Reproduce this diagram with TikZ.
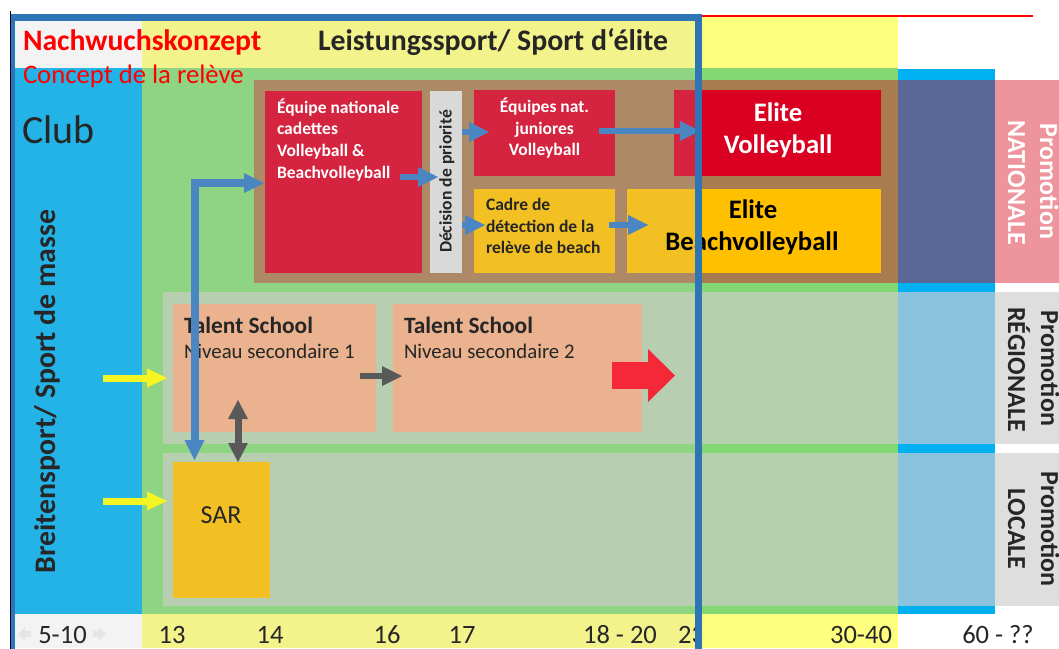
\documentclass[tikz,border=0pt]{standalone}
\usepackage{fontspec}
\setmainfont{Carlito}
\usetikzlibrary{arrows.meta,calc}
\definecolor{cBlue}{HTML}{00B0F0}
\definecolor{cYel}{HTML}{FFFF7F}
\definecolor{cGreen}{HTML}{83D873}
\definecolor{cBrown}{HTML}{A97C4F}
\definecolor{cNavy}{HTML}{5A6898}
\definecolor{cRow}{HTML}{B4D1AD}
\definecolor{cRowB}{HTML}{8BC3DE}
\definecolor{cRed}{HTML}{D90021}
\definecolor{cGold}{HTML}{FFC000}
\definecolor{cTS}{HTML}{F3AE82}
\definecolor{cGrayBox}{HTML}{DEDEDE}
\definecolor{cPink}{HTML}{EE949D}
\definecolor{cArrB}{HTML}{4A86C1}
\definecolor{cArrG}{HTML}{595959}
\definecolor{cArrY}{HTML}{F5F523}
\definecolor{cArrR}{HTML}{F42837}
\definecolor{cFrame}{HTML}{2E75B6}
\definecolor{cDark}{HTML}{262626}
\definecolor{cRedT}{HTML}{FF0000}
\definecolor{cOver}{HTML}{C4C4C4}
\newcommand\fz[1]{\fontsize{#1}{#1}\selectfont}
\begin{document}
\begin{tikzpicture}[x=1pt,y=-1pt,
  box/.style={inner sep=0pt, outer sep=0pt, draw=none},
  t/.style={inner sep=0pt, outer sep=0pt, anchor=base west},
  tc/.style={inner sep=0pt, outer sep=0pt, anchor=base},
  boxtxt/.style={font=\fz{17.5}\bfseries},
  bigtxt/.style={font=\fz{26.7}\bfseries},
  labtxt/.style={font=\fz{26}\bfseries},
  axtxt/.style={font=\fz{26.5}, text=cDark},
  barr/.style={draw=cArrB, line width=6pt, -{Triangle[length=20pt,width=20pt,line width=0pt]}},
  belbow/.style={draw=cArrB, line width=8pt, {Triangle[length=20pt,width=20pt,line width=0pt]}-{Triangle[length=20pt,width=20pt,line width=0pt]}},
  garr/.style={draw=cArrG, line width=6pt, -{Triangle[length=20pt,width=20pt,line width=0pt]}},
  gdbl/.style={draw=cArrG, line width=7pt, {Triangle[length=19pt,width=20pt,line width=0pt]}-{Triangle[length=19pt,width=20pt,line width=0pt]}},
  yarr/.style={draw=cArrY, line width=7pt, -{Triangle[length=20pt,width=19pt,line width=0pt]}},
  rarr/.style={draw=cArrR, line width=27pt, -{Triangle[length=27pt,width=53pt,line width=0pt]}}
]
\useasboundingbox (0,0) rectangle (1059,648);
\fill[white] (0,0) rectangle (1059,648);
% background bands
\fill[cYel] (142,17) rectangle (898,68);
\fill[white] (12,17) rectangle (142,68);
\fill[cBlue] (12,68) rectangle (142,614);
\fill[cGreen] (142,68) rectangle (898,614);
\fill[cBlue] (898,69) rectangle (995,614);
\fill[cBrown] (254,80) rectangle (898,283);
\fill[cNavy] (898,80) rectangle (995,283);
\fill[cRow] (163,292) rectangle (898,444);
\fill[cRow] (163,453) rectangle (898,606);
\fill[cRowB] (898,292) rectangle (995,444);
\fill[cRowB] (898,453) rectangle (995,606);
\fill[white] (12,614) rectangle (142,648);
\fill[cYel] (142,614) rectangle (898,648);
% boxes
\node[box, fill=cRed, minimum width=157pt, minimum height=182pt] (eq) at (343.5,182) {};
\node[box, fill=cGrayBox, minimum width=32pt, minimum height=182pt] (dec) at (446,182) {};
\node[box, fill=cRed, minimum width=141pt, minimum height=86pt] (jun) at (544.5,133) {};
\node[box, fill=cGold, minimum width=141pt, minimum height=84pt] (cad) at (544.5,231) {};
\node[box, fill=cRed, minimum width=207pt, minimum height=86pt] (elv) at (777.5,133) {};
\node[box, fill=cGold, minimum width=254pt, minimum height=84pt] (elb) at (754,231) {};
\node[box, fill=cTS, minimum width=203pt, minimum height=128pt] (ts1) at (274.5,368) {};
\node[box, fill=cTS, minimum width=249pt, minimum height=128pt] (ts2) at (517.5,368) {};
\node[box, fill=cGold, minimum width=97pt, minimum height=136pt] (sar) at (221.5,530) {};
\node[box, fill=cPink, minimum width=64pt, minimum height=203pt] (lnat) at (1027,181.5) {};
\node[box, fill=cGrayBox, minimum width=64pt, minimum height=152pt] (lreg) at (1027,368) {};
\node[box, fill=cGrayBox, minimum width=64pt, minimum height=153pt] (lloc) at (1027,529.5) {};
% muted overlay inside the frame
\fill[cOver, fill opacity=0.19] (12,17) rectangle (698,648);
% faint arrows beside 5-10
\fill[gray!20] (18,634) -- (25,627) -- (25,631) -- (31,631) -- (31,637) -- (25,637) -- (25,641) -- cycle;
\fill[gray!20] (106,634) -- (99,627) -- (99,631) -- (93,631) -- (93,637) -- (99,637) -- (99,641) -- cycle;
% texts
\node[t, font=\fz{29.7}\bfseries, text=cRedT] (tNach) at (23,50) {Nachwuchskonzept};
\node[t, font=\fz{26.7}, text=cRedT] (tConc) at (23,83) {Concept de la relève};
\node[t, font=\fz{29.8}\bfseries, text=cDark] (tLeist) at (318,50) {Leistungssport/ Sport d‘élite};
\node[t, font=\fz{40}, text=cDark] (tClub) at (22,143) {Club};
\node[tc, rotate=90, font=\fz{29.8}\bfseries, text=cDark] (tBreit) at (55,391.5) {Breitensport/ Sport de masse};
\node[t, boxtxt, text=white] (e1) at (277,113) {Équipe nationale};
\node[t, boxtxt, text=white] (e2) at (277,134) {cadettes};
\node[t, boxtxt, text=white] (e3) at (277,156) {Volleyball \&};
\node[t, boxtxt, text=white] (e4) at (277,178) {Beachvolleyball};
\node[tc, rotate=90, font=\fz{17.6}\bfseries, text=cDark] (tDec) at (451.5,181.5) {Décision de priorité};
\node[tc, boxtxt, text=white] (j1) at (544.5,112) {Équipes nat.};
\node[tc, boxtxt, text=white] (j2) at (544.5,134) {juniores};
\node[tc, boxtxt, text=white] (j3) at (544.5,155) {Volleyball};
\node[t, boxtxt, text=cDark] (c1) at (486,210) {Cadre de};
\node[t, boxtxt, text=cDark] (c2) at (486,232) {détection de la};
\node[t, boxtxt, text=cDark] (c3) at (486,253) {relève de beach};
\node[tc, bigtxt, text=white] (v1) at (778,121) {Elite};
\node[tc, bigtxt, text=white] (v2) at (778,153) {Volleyball};
\node[tc, bigtxt, text=black] (b1) at (753,218) {Elite};
\node[tc, bigtxt, text=black] (b2) at (752,250) {Beachvolleyball};
\node[t, font=\fz{23.4}\bfseries, text=cDark] (s1a) at (184,333) {Talent School};
\node[t, font=\fz{20.8}, text=cDark] (s1b) at (184,358) {Niveau secondaire 1};
\node[t, font=\fz{23.4}\bfseries, text=cDark] (s2a) at (404,333) {Talent School};
\node[t, font=\fz{20.8}, text=cDark] (s2b) at (404,358) {Niveau secondaire 2};
\node[tc, font=\fz{26}, text=cDark] (tSar) at (221,523) {SAR};
\node[tc, rotate=-90, labtxt, text=white] (n1) at (1040,181.5) {Promotion};
\node[tc, rotate=-90, labtxt, text=white] (n2) at (1008,182.5) {NATIONALE};
\node[tc, rotate=-90, labtxt, text=cDark] (r1) at (1041,368.5) {Promotion};
\node[tc, rotate=-90, labtxt, text=cDark] (r2) at (1008,369.5) {RÉGIONALE};
\node[tc, rotate=-90, labtxt, text=cDark] (l1) at (1041,529) {Promotion};
\node[tc, rotate=-90, labtxt, text=cDark] (l2) at (1008,529) {LOCALE};
\node[tc, axtxt] (a510) at (62.5,643) {5-10};
\node[tc, axtxt] (a13) at (172,643) {13};
\node[tc, axtxt] (a14) at (270,643) {14};
\node[tc, axtxt] (a16) at (387,643) {16};
\node[tc, axtxt] (a17) at (462,643) {17};
\node[tc, axtxt] (a1820) at (620,643) {18 - 20};
\begin{scope}
\clip (600,600) rectangle (698,648);
\node[tc, axtxt] (a23) at (691.5,643) {23};
\end{scope}
\node[tc, axtxt] (a3040) at (861,643) {30-40};
\node[tc, axtxt] (a60) at (998,643) {60 - ??};
% connectors
\coordinate (y1s) at (103,378);
\coordinate (y2s) at (103,501);
\coordinate (redtip) at (675,375.5);
\draw[barr] ($(eq.east)+(-22,-5)$) -- ($(dec.west)+(8,-5)$);
\draw[barr] ($(dec.east)+(0,-50)$) -- ($(jun.west)+(15,-1)$);
\draw[barr] ($(dec.east)+(0,43)$) -- ($(cad.west)+(11,-6)$);
\draw[barr] ($(jun.east)+(-16,-2)$) -- ($(elv.west)+(26,-2)$);
\draw[barr] ($(cad.east)+(-6,-6)$) -- ($(elb.west)+(21,-6)$);
\draw[garr] ($(ts1.east)+(-16,8)$) -- ($(ts2.west)+(9,8)$);
\draw[gdbl] ($(sar.north)+(16.5,0)$) -- ($(ts1.south)+(-36.5,-32)$);
\draw[yarr] (y1s) -- ($(ts1.west)+(-6,10)$);
\draw[yarr] (y2s) -- ($(sar.west)+(-6,-29)$);
\draw[rarr] ($(ts2.east)+(-30,7.5)$) -- (redtip);
\draw[belbow] ($(sar.north)+(-27,-2)$) |- ($(eq.west)+(-1,1)$);
% frame and red line
\draw[cRedT, line width=2pt] (702,16) -- (1033,16);
\draw[cFrame, line width=6.5pt] (11,17.5) -- (698.5,17.5);
\draw[cFrame, line width=6.5pt] (698.5,14.25) -- (698.5,650);
\fill[cFrame] (11,14.25) rectangle (15,650);
\draw[black!80!blue, line width=1.2pt] (10.6,11) -- (10.6,650);
\end{tikzpicture}
\end{document}
